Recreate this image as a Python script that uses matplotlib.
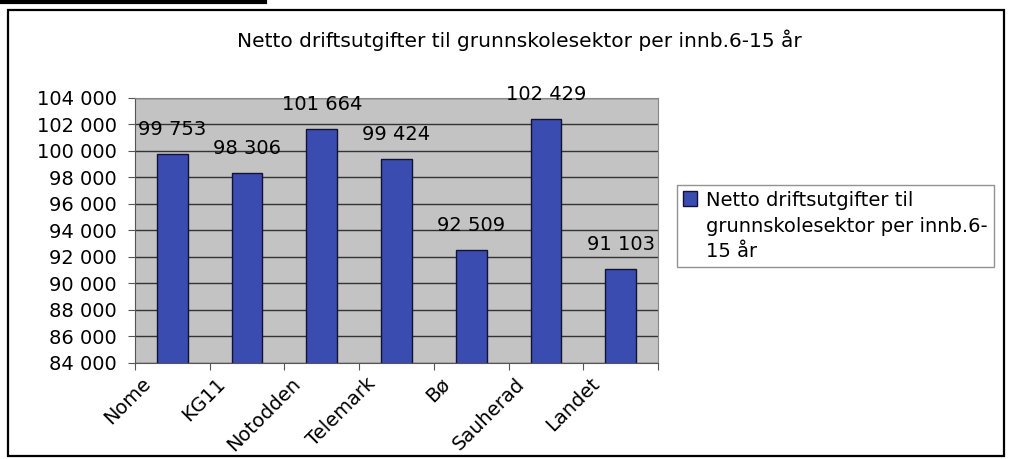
import matplotlib
matplotlib.use("Agg")
import matplotlib.pyplot as plt
import matplotlib.transforms as mtransforms
from matplotlib.patches import Rectangle
from matplotlib.lines import Line2D
from matplotlib.legend_handler import HandlerPatch
from matplotlib.container import BarContainer
import numpy as np

categories = ["Nome", "KG11", "Notodden", "Telemark", "Bø", "Sauherad", "Landet"]
values = [99753, 98306, 101664, 99424, 92509, 102429, 91103]
value_labels = ["99 753", "98 306", "101 664", "99 424", "92 509", "102 429", "91 103"]
yticks = list(range(84000, 104001, 2000))
ytick_labels = [f"{v // 1000} 000" for v in yticks]
title = "Netto driftsutgifter til grunnskolesektor per innb.6-15 år"
legend_label = "Netto driftsutgifter til\ngrunnskolesektor per innb.6-\n15 år"

plt.rcParams['font.family'] = ['DejaVu Sans']

W, H = 1012, 459
fig = plt.figure(figsize=(W / 100, H / 100), dpi=100)
fig.patch.set_facecolor("white")

def fx(px):
    return px / W

def fy(py):
    return 1 - py / H

# outer frame
fig.add_artist(Rectangle((fx(8), fy(456)), fx(1004) - fx(8), fy(10) - fy(456),
                         transform=fig.transFigure, fill=False, edgecolor="black", lw=1.6))
fig.add_artist(Line2D([0, fx(265)], [fy(1.5), fy(1.5)], transform=fig.transFigure,
                      color="black", lw=3))

left, right, top, bottom = 135, 658, 98, 363
ax = fig.add_axes([fx(left), fy(bottom), fx(right) - fx(left), fy(top) - fy(bottom)])
ax.set_facecolor("#C3C3C3")

x = np.arange(len(categories))
ax.bar(x, values, width=0.41, color="#3B4CB0", edgecolor="#111133", linewidth=1.0,
       zorder=3, label=legend_label)
for xi, v, lab in zip(x, values, value_labels):
    ax.annotate(lab, (xi, v), xytext=(0, 15), textcoords="offset pixels",
                ha="center", va="bottom", fontsize=14, color="black", zorder=4)

ax.set_xlim(-0.5, len(categories) - 0.5)
ax.set_ylim(84000, 104000)
ax.set_yticks(yticks)
ax.set_yticklabels(ytick_labels, fontsize=14)
ax.yaxis.grid(True, color="#333333", lw=1.0, zorder=1)

ax.set_xticks(np.arange(len(categories) + 1) - 0.5)
ax.set_xticklabels([])
ax.set_xticks(x, minor=True)
ax.set_xticklabels(categories, minor=True, rotation=45, ha="right",
                   rotation_mode="anchor", fontsize=14)
ax.tick_params(axis="x", which="minor", length=0, pad=8)
ax.tick_params(axis="x", which="major", length=5, color="#555555")
ax.tick_params(axis="y", length=5, color="#555555", pad=8)
offset = mtransforms.ScaledTranslation(-31 / 100, 0, fig.dpi_scale_trans)
for lbl in ax.get_xticklabels(minor=True):
    lbl.set_transform(lbl.get_transform() + offset)

for s in ["top", "right"]:
    ax.spines[s].set_color("#888888")
for s in ["left", "bottom"]:
    ax.spines[s].set_color("#555555")

fig.text(fx(519), fy(40), title, ha="center", va="center", fontsize=14.5)


def top_square(legend, orig_handle, xdescent, ydescent, width, height, fontsize):
    return Rectangle((-xdescent, -ydescent + fontsize * 1.45), width, height)


def from_first_bar(legend_handle, orig_handle):
    legend_handle.update_from(orig_handle.patches[0])


leg = fig.legend(loc="upper left", bbox_to_anchor=(fx(677), fy(185)),
                 bbox_transform=fig.transFigure, fontsize=14, frameon=True,
                 fancybox=False, edgecolor="#777777", handlelength=0.75,
                 handleheight=0.75, handletextpad=0.45, borderpad=0.3,
                 labelspacing=0.1, borderaxespad=0,
                 handler_map={BarContainer: HandlerPatch(patch_func=top_square,
                                                         update_func=from_first_bar)})
leg.get_frame().set_linewidth(1.0)
for t in leg.get_texts():
    t.set_linespacing(1.45)

fig.savefig("out.png", dpi=100)
